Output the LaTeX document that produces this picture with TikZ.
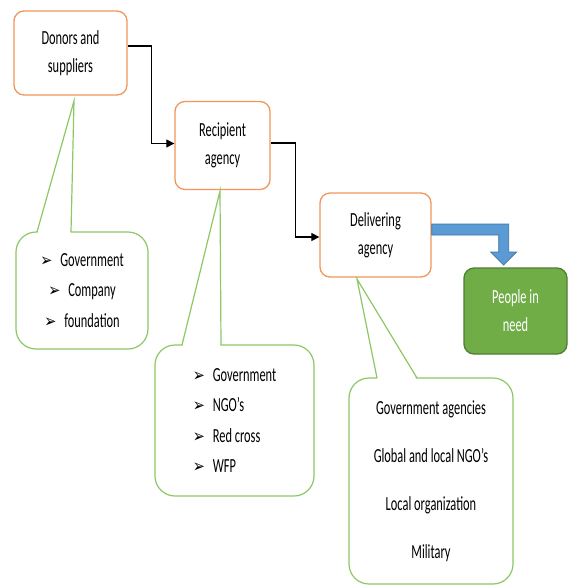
\documentclass[tikz,border=0pt]{standalone}
\usepackage{fontspec}
\setmainfont{Carlito}[FakeStretch=0.62]
\newfontfamily\dingfont{DejaVu Sans}[FakeStretch=0.8]
\usetikzlibrary{arrows.meta,positioning}
\definecolor{boxorange}{RGB}{240,150,90}
\definecolor{calgreen}{RGB}{140,200,100}
\definecolor{needgreen}{RGB}{112,173,71}
\definecolor{neededge}{RGB}{80,126,50}
\definecolor{flowblue}{RGB}{91,155,213}
\definecolor{flowedge}{RGB}{65,113,156}
\newcommand{\bul}{{\dingfont\fontsize{18}{18}\selectfont ➢}\hspace{8pt}}

\begin{document}
\begin{tikzpicture}[x=1pt,y=-1pt,
	stage/.style={draw=boxorange,line width=1.3pt,rounded corners=10pt,fill=white,align=center,
		font=\fontsize{20}{28}\selectfont,inner sep=0pt},
	bubble/.style={draw=calgreen,line width=1.2pt,rounded corners=20pt,fill=white,inner sep=0pt},
	flow/.style={line width=1.2pt,-{Triangle[length=8pt,width=8pt]}},
	bigflow/.style={fill=flowblue,draw=flowedge,line width=0.8pt,line join=miter}]
	\useasboundingbox (0,0) rectangle (568,586);

	% main chain
	\node (donors) at (70.5,53) [stage,minimum width=113pt,minimum height=84pt] {Donors and\\suppliers};
	\node (recipient) at (222.5,145.5) [stage,minimum width=95pt,minimum height=88pt] {Recipient\\agency};
	\node (delivering) at (375.5,235) [stage,minimum width=111pt,minimum height=84pt] {Delivering\\agency};
	\node (need) at (515.5,311) [stage,draw=neededge,fill=needgreen,text=white,minimum width=103pt,minimum height=86pt] {People in\\need};

	\draw [flow] ([yshift=7pt]donors.east) -- ++(24,0) |- ([yshift=2pt]recipient.west);
	\draw [flow] ([yshift=2.5pt]recipient.east) -- ++(25,0) |- ([yshift=-2pt]delivering.west);
	\draw [bigflow] ([yshift=11pt]delivering.east) -- ++(77,0) -- ++(0,28) -- ++(8,0) -- ++(-13,13)
		-- ++(-13,-13) -- ++(8,0) -- ++(0,-17) -- (delivering.east) -- cycle;

	% callouts
	\node (donorlist) at (82,290.5) [bubble,minimum width=132pt,minimum height=117pt,align=center,
		font=\fontsize{20}{30.5}\selectfont] {\bul Government\\\bul Company\\\bul foundation};
	\coordinate (donortip) at (74,101);
	\fill [white] (37.5,233.5) -- (donortip) -- (70.5,233.5) -- cycle;
	\draw [calgreen,line width=1.2pt] (37,232) -- (donortip) -- (71,232);

	\node (recipientlist) at (234.5,420.5) [bubble,minimum width=159pt,minimum height=151pt,align=left,
		font=\fontsize{20}{30.5}\selectfont] {\bul Government\\\bul NGO’s\\\bul Red cross\\\bul WFP};
	\coordinate (recipienttip) at (220,191);
	\fill [white] (182.5,346.5) -- (recipienttip) -- (220.5,346.5) -- cycle;
	\draw [calgreen,line width=1.2pt] (182,345) -- (recipienttip) -- (221,345);

	\node (deliverlist) at (431,481) [bubble,minimum width=164pt,minimum height=206pt,align=center,
		font=\fontsize{20}{48}\selectfont] {Government agencies\\Global and local NGO’s\\Local organization\\Military};
	\coordinate (delivertip) at (357,279);
	\fill [white] (377.5,379.5) -- (delivertip) -- (416.5,379.5) -- cycle;
	\draw [calgreen,line width=1.2pt] (377,378) -- (delivertip) -- (417,378);
\end{tikzpicture}
\end{document}
